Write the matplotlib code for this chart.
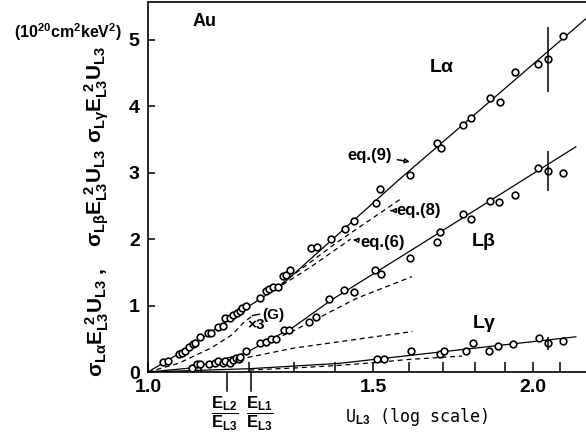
import matplotlib
matplotlib.use("Agg")
import matplotlib.pyplot as plt
from matplotlib.ticker import FixedLocator, FixedFormatter, NullFormatter

plt.rcParams["font.family"] = ["Liberation Sans", "DejaVu Sans"]
plt.rcParams["font.weight"] = "bold"
plt.rcParams["mathtext.fontset"] = "custom"
plt.rcParams["mathtext.rm"] = "Liberation Sans:bold"
plt.rcParams["mathtext.it"] = "Liberation Sans:bold"
plt.rcParams["mathtext.bf"] = "Liberation Sans:bold"

# measured points, L-alpha
la_x = [1.027, 1.037, 1.057, 1.063, 1.069, 1.077, 1.084, 1.088, 1.098, 1.115,
        1.120, 1.135, 1.145, 1.149, 1.159, 1.166, 1.173, 1.180, 1.185, 1.192,
        1.223, 1.237, 1.244, 1.252, 1.264, 1.274, 1.282, 1.291, 1.340, 1.355,
        1.390, 1.426, 1.449, 1.507, 1.518, 1.604, 1.682, 1.695, 1.762, 1.789,
        1.851, 1.885, 1.936, 2.019, 2.053, 2.110]
la_y = [0.15, 0.17, 0.27, 0.28, 0.31, 0.38, 0.42, 0.43, 0.53, 0.58,
        0.59, 0.68, 0.69, 0.82, 0.81, 0.86, 0.89, 0.92, 0.96, 0.99,
        1.12, 1.22, 1.25, 1.28, 1.28, 1.44, 1.46, 1.53, 1.87, 1.88,
        2.00, 2.15, 2.28, 2.55, 2.75, 2.97, 3.45, 3.37, 3.72, 3.82,
        4.13, 4.06, 4.52, 4.64, 4.71, 5.06]

# L-beta
lb_x = [1.082, 1.092, 1.098, 1.117, 1.128, 1.135, 1.144, 1.149, 1.159, 1.166,
        1.172, 1.177, 1.180, 1.193, 1.223, 1.236, 1.248, 1.259, 1.277, 1.290,
        1.337, 1.353, 1.386, 1.423, 1.449, 1.506, 1.520, 1.604, 1.682, 1.692,
        1.762, 1.787, 1.851, 1.881, 1.936, 2.019, 2.053, 2.110]
lb_y = [0.06, 0.12, 0.12, 0.12, 0.14, 0.17, 0.13, 0.17, 0.14, 0.18,
        0.21, 0.19, 0.22, 0.31, 0.43, 0.45, 0.50, 0.49, 0.63, 0.64,
        0.76, 0.83, 1.10, 1.23, 1.20, 1.54, 1.48, 1.71, 1.96, 2.11,
        2.38, 2.31, 2.57, 2.56, 2.66, 3.07, 3.02, 3.00]

# L-gamma
lg_x = [1.510, 1.529, 1.605, 1.690, 1.704, 1.771, 1.794, 1.849, 1.879, 1.930,
        2.021, 2.055, 2.110]
lg_y = [0.19, 0.19, 0.31, 0.27, 0.32, 0.31, 0.43, 0.32, 0.39, 0.42,
        0.51, 0.43, 0.47]

# error bars at U = 2.05
err_x = [2.053, 2.053, 2.055]
err_lo = [4.22, 2.72, 0.33]
err_hi = [5.20, 3.32, 0.53]

# fitted curves (solid)
la_fit_x = [1.0, 1.06, 1.12, 1.19, 1.27, 1.40, 1.57, 2.2]
la_fit_y = [0.0, 0.29, 0.60, 0.95, 1.30, 2.03, 2.89, 5.32]
lb_fit_x = [1.0, 1.08, 1.19, 1.30, 1.39, 1.63, 2.16]
lb_fit_y = [0.0, 0.06, 0.28, 0.68, 1.08, 1.91, 3.39]
lg_fit_x = [1.0, 1.2, 1.41, 2.16]
lg_fit_y = [0.0, 0.05, 0.13, 0.53]

# theory curves (dashed)
g_x = [1.0, 1.056, 1.12, 1.163, 1.19, 1.21]
g_y = [0.0, 0.13, 0.36, 0.56, 0.76, 0.86]
eq8_x = [1.24, 1.40, 1.58]
eq8_y = [1.17, 1.93, 2.62]
eq6_x = [1.24, 1.34, 1.44]
eq6_y = [1.17, 1.58, 2.00]
lb_d1_x = [1.22, 1.295, 1.456, 1.608]
lb_d1_y = [0.39, 0.607, 1.11, 1.435]
lb_d2_x = [1.16, 1.19, 1.30, 1.61]
lb_d2_y = [0.16, 0.21, 0.36, 0.61]
lg_d_x = [1.2, 1.3, 1.41, 1.5, 1.6, 1.76]
lg_d_y = [0.03, 0.06, 0.10, 0.14, 0.19, 0.24]

edge_x = [1.152, 1.204]
edge_text_x = [1.147, 1.223]
edge_labels = [r"$\dfrac{E_{L2}}{E_{L3}}$", r"$\dfrac{E_{L1}}{E_{L3}}$"]

fig = plt.figure(figsize=(5.86, 4.37), dpi=100)
ax = fig.add_axes([0.2526, 0.1487, 0.7474, 0.8467])
ax.set_xscale("log")
ax.set_xlim(1.0, 2.2)
ax.set_ylim(0, 5.57)

for xs, ys in [(la_fit_x, la_fit_y), (lb_fit_x, lb_fit_y), (lg_fit_x, lg_fit_y)]:
    ax.plot(xs, ys, "k-", lw=0.9)
for xs, ys in [(g_x, g_y), (eq8_x, eq8_y), (eq6_x, eq6_y), (lb_d1_x, lb_d1_y),
               (lb_d2_x, lb_d2_y), (lg_d_x, lg_d_y)]:
    ax.plot(xs, ys, "k--", lw=0.9, dashes=(4, 3))

for xs, ys in [(la_x, la_y), (lb_x, lb_y), (lg_x, lg_y)]:
    ax.plot(xs, ys, "o", ms=4.8, mfc="white", mec="black", mew=1.2)

ax.vlines(err_x, err_lo, err_hi, colors="black", lw=1.1)

ax.xaxis.set_major_locator(FixedLocator([1.0, 1.5, 2.0]))
ax.xaxis.set_major_formatter(FixedFormatter(["1.0", "1.5", "2.0"]))
ax.xaxis.set_minor_locator(FixedLocator([1.1, 1.2, 1.3, 1.4, 1.6, 1.7, 1.8, 1.9, 2.1]))
ax.xaxis.set_minor_formatter(NullFormatter())
ax.set_yticks([0, 1, 2, 3, 4, 5])
ax.tick_params(which="both", direction="in", width=1.1, labelsize=14)
ax.tick_params(axis="x", which="both", length=7, pad=5)
ax.tick_params(axis="y", length=5, pad=6)
for lab in ax.get_xticklabels() + ax.get_yticklabels():
    lab.set_fontweight("bold")

ax.spines["right"].set_visible(False)
for s in ["left", "bottom", "top"]:
    ax.spines[s].set_linewidth(1.2)

# absorption edge markers below the axis
for ex, tx, el in zip(edge_x, edge_text_x, edge_labels):
    ax.plot([ex, ex], [0, -0.28], "k-", lw=1.1, clip_on=False)
    ax.text(tx, -0.62, el, ha="center", va="center", fontsize=12)

ax.text(1.108, 5.27, "Au", fontsize=13, ha="center", va="center")
ax.text(1.698, 4.59, r"L$\alpha$", fontsize=14, ha="center", va="center")
ax.text(1.831, 1.96, r"L$\beta$", fontsize=14, ha="center", va="center")
ax.text(1.831, 0.73, r"L$\gamma$", fontsize=14, ha="center", va="center")

arw = dict(arrowstyle="-|>", color="black", lw=1.1, mutation_scale=7, fc="white")
ax.annotate("eq.(9)", xy=(1.61, 3.16), xytext=(1.49, 3.26), fontsize=12,
            ha="center", va="center", arrowprops=arw)
ax.annotate("eq.(8)", xy=(1.54, 2.43), xytext=(1.565, 2.43), fontsize=12,
            ha="left", va="center", arrowprops=arw)
ax.annotate("eq.(6)", xy=(1.447, 1.99), xytext=(1.465, 1.95), fontsize=12,
            ha="left", va="center", arrowprops=arw)
ax.text(1.215, 0.71, r"$\times$3", fontsize=11, ha="center", va="center")
ax.text(1.252, 0.86, "(G)", fontsize=11, ha="center", va="center")
ax.plot([1.207, 1.222], [0.85, 0.87], "k-", lw=1)

fig.text(0.711, 0.046, r"U$_{L3}$ (log scale)", fontsize=12, ha="center",
         va="center", family="DejaVu Sans Mono", weight="normal")
fig.text(0.116, 0.927, r"(10$^{20}$cm$^2$keV$^2$)", fontsize=11.5,
         ha="center", va="center")
fig.text(0.1655, 0.249, r"$\sigma_{L\alpha}E_{L3}^{\ 2}U_{L3}$", rotation=90,
         fontsize=15, ha="center", va="center")
fig.text(0.1655, 0.382, ",", rotation=90, fontsize=15, ha="center", va="center")
fig.text(0.1655, 0.547, r"$\sigma_{L\beta}E_{L3}^{\ 2}U_{L3}$", rotation=90,
         fontsize=15, ha="center", va="center")
fig.text(0.1655, 0.783, r"$\sigma_{L\gamma}E_{L3}^{\ 2}U_{L3}$", rotation=90,
         fontsize=15, ha="center", va="center")

fig.savefig("out.png", dpi=100)
